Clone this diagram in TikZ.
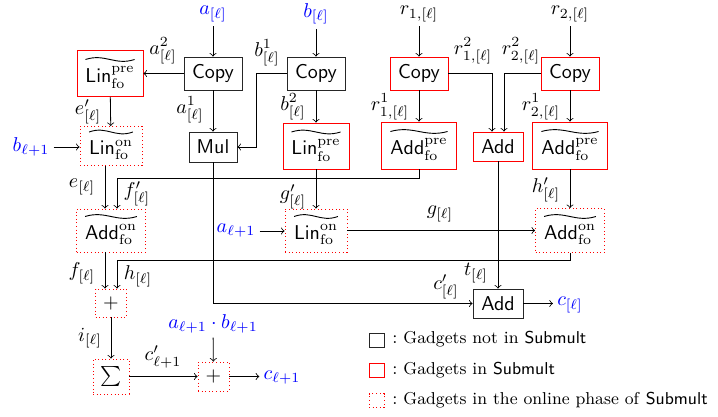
\documentclass[tikz,border=0pt]{standalone}
\usepackage{amsmath}
\usetikzlibrary{calc}

% wavy accent drawn over the text of a gadget node
\newcommand\tildeon[1]{%
  \draw[wave] ($(#1.text)+(0,11.5pt)$) to ($(#1.text)!2!(#1.text -| #1.center)+(0,11.5pt)$);}

\begin{document}
\begin{tikzpicture}[x=0.5pt,y=-0.5pt,>=to,
  every node/.style={inner sep=0pt},
  gbox/.style={draw, font=\sffamily},
  gplain/.style={gbox, draw=black!85},
  gpre/.style={gbox, draw=red},
  gon/.style={gbox, draw=red, dash pattern=on 0.5pt off 1.3pt},
  tilded/.style={text height=12.5pt, text depth=3.5pt},
  src/.style={text=blue, inner sep=2pt},
  elbl/.style={inner sep=0pt},
  keytext/.style={anchor=base west, font=\fontsize{8.6}{10}\selectfont},
  conn/.style={->},
  wave/.style={line width=0.45pt,
    to path={.. controls ($(\tikztostart)!0.4!(\tikztotarget)+(0,3.2pt)$) and ($(\tikztostart)!0.6!(\tikztotarget)+(0,-3.2pt)$) .. (\tikztotarget)}},
]
\useasboundingbox (0,0) rectangle (718,417);

% inputs and outputs
\node[src] (ain)  at (213,14)  {$a_{[\ell]}$};
\node[src] (bin)  at (316,14)  {$b_{[\ell]}$};
\node[inner sep=2pt] (r1in) at (419,14) {$r_{1,[\ell]}$};
\node[inner sep=2pt] (r2in) at (570,14) {$r_{2,[\ell]}$};
\node[src] (bnext) at (31,147)  {$b_{\ell+1}$};
\node[src] (anext) at (236,231) {$a_{\ell+1}$};
\node[src] (ab)    at (213,324) {$a_{\ell+1}\cdot b_{\ell+1}$};
\node[src] (cout)  at (570,305) {$c_{[\ell]}$};
\node[src] (cnext) at (282,378) {$c_{\ell+1}$};

% gadgets
\node[gplain, minimum width=29pt, minimum height=16.5pt] (cpa)  at (213,73.5) {Copy};
\node[gplain, minimum width=29pt, minimum height=16.5pt] (cpb)  at (316,73.5) {Copy};
\node[gpre,   minimum width=29pt, minimum height=16.5pt] (cpr1) at (419,73.5) {Copy};
\node[gpre,   minimum width=29pt, minimum height=16.5pt] (cpr2) at (570,73.5) {Copy};

\node[gpre, tilded, minimum width=33pt, minimum height=23pt] (linpa) at (110,73.5)
  {$\mathsf{Lin}^{\mathrm{pre}}_{\mathrm{fo}}$};
\node[gon, tilded, minimum width=31pt, minimum height=19.5pt] (linoa) at (111,146)
  {$\mathsf{Lin}^{\mathrm{on}}_{\mathrm{fo}}$};
\node[gplain, minimum width=24pt, minimum height=15pt] (mul) at (213,147) {Mul};
\node[gpre, tilded, minimum width=33pt, minimum height=23pt] (linpb) at (316,146)
  {$\mathsf{Lin}^{\mathrm{pre}}_{\mathrm{fo}}$};
\node[gpre, tilded, minimum width=37.5pt, minimum height=23.5pt] (addp1) at (419,145.5)
  {$\mathsf{Add}^{\mathrm{pre}}_{\mathrm{fo}}$};
\node[gpre, minimum width=25pt, minimum height=14.5pt] (addr) at (498,146.5) {Add};
\node[gpre, tilded, minimum width=37.5pt, minimum height=23.5pt] (addp2) at (570,145.5)
  {$\mathsf{Add}^{\mathrm{pre}}_{\mathrm{fo}}$};

\node[gon, tilded, minimum width=34.5pt, minimum height=21.5pt] (addoa) at (111,230.5)
  {$\mathsf{Add}^{\mathrm{on}}_{\mathrm{fo}}$};
\node[gon, tilded, minimum width=31pt, minimum height=21.5pt] (linob) at (316,230.5)
  {$\mathsf{Lin}^{\mathrm{on}}_{\mathrm{fo}}$};
\node[gon, tilded, minimum width=34.5pt, minimum height=22pt] (addob) at (570,230.5)
  {$\mathsf{Add}^{\mathrm{on}}_{\mathrm{fo}}$};

\node[gon, minimum width=15.5pt, minimum height=14pt] (plusa) at (111,303) {$+$};
\node[gon, minimum width=18pt, minimum height=17.5pt] (sig) at (111,376.5) {$\sum$};
\node[gon, minimum width=15.5pt, minimum height=14.5pt] (plusb) at (213.5,376.5) {$+$};
\node[gplain, minimum width=25pt, minimum height=14.5pt] (addb) at (498,303.5) {Add};

% accents
\foreach \g in {linpa,linoa,linpb,addp1,addp2,addoa,linob,addob} {\tildeon{\g}}

% connectors
\draw[conn] (ain) -- (cpa);
\draw[conn] (bin) -- (cpb);
\draw[conn] (r1in) -- (cpr1);
\draw[conn] (r2in) -- (cpr2);
\draw[conn] (cpa.west) -- (cpa.west -| linpa.east);
\draw[conn] (cpa) -- (mul);
\draw[conn] (cpb.west) -- ++(-30,0) |- (mul.east);
\draw[conn] (cpb) -- (linpb);
\draw[conn] (cpr1.east) -| ([xshift=-3pt]addr.north);
\draw[conn] (cpr2.west) -| ([xshift=3pt]addr.north);
\draw[conn] (cpr1) -- (addp1);
\draw[conn] (cpr2) -- (addp2);
\draw[conn] (linpa) -- (linoa);
\draw[conn] (bnext) -- (bnext -| linoa.west);
\draw[conn] ([xshift=-3pt]linoa.south) -- ([xshift=-3pt]addoa.north);
\draw[conn] (addp1.south) -- ++(0,9) -| ([xshift=3pt]addoa.north);
\draw[conn] (linpb) -- (linob);
\draw[conn] (anext) -- (anext -| linob.west);
\draw[conn] (linob) -- (addob);
\draw[conn] (addp2) -- (addob);
\draw[conn] ([xshift=-3pt]addoa.south) -- ([xshift=-3pt]plusa.north);
\draw[conn] (addob.south) -- ++(0,7) -| ([xshift=3pt]plusa.north);
\draw[conn] (mul.south) |- (addb.west);
\draw[conn] (addr) -- (addb);
\draw[conn] (addb.east) -- (addb.east -| cout.west);
\draw[conn] (plusa) -- (sig);
\draw[conn] (sig) -- (plusb);
\draw[conn] (ab) -- (plusb);
\draw[conn] (plusb.east) -- (plusb.east -| cnext.west);

% connector labels
\node[elbl] (la2) at (163,51)  {$a^{2}_{[\ell]}$};
\node[elbl] (la1) at (190,110) {$a^{1}_{[\ell]}$};
\node[elbl] (lb1) at (267,53)  {$b^{1}_{[\ell]}$};
\node[elbl] (lb2) at (293,107) {$b^{2}_{[\ell]}$};
\node[elbl] (lr12) at (473,51) {$r^{2}_{1,[\ell]}$};
\node[elbl] (lr22) at (521,51) {$r^{2}_{2,[\ell]}$};
\node[elbl] (lr11) at (390,107) {$r^{1}_{1,[\ell]}$};
\node[elbl] (lr21) at (541,107) {$r^{1}_{2,[\ell]}$};
\node[elbl] (lep) at (88,112)  {$e'_{[\ell]}$};
\node[elbl] (le)  at (82,187)  {$e_{[\ell]}$};
\node[elbl] (lfp) at (137,194) {$f'_{[\ell]}$};
\node[elbl] (lgp) at (293,197) {$g'_{[\ell]}$};
\node[elbl] (lhp) at (546,190) {$h'_{[\ell]}$};
\node[elbl] (lg)  at (440,214) {$g_{[\ell]}$};
\node[elbl] (lf)  at (82,273)  {$f_{[\ell]}$};
\node[elbl] (lh)  at (138,276) {$h_{[\ell]}$};
\node[elbl] (li)  at (90,338)  {$i_{[\ell]}$};
\node[elbl] (lcn) at (163,357) {$c'_{\ell+1}$};
\node[elbl] (lt)  at (476,273) {$t_{[\ell]}$};
\node[elbl] (lcp) at (446,287) {$c'_{[\ell]}$};

% legend
\node[gplain, minimum width=7.5pt, minimum height=7pt] (key1) at (376.5,340) {};
\node[gpre,   minimum width=7.5pt, minimum height=7pt] (key2) at (376.5,370) {};
\node[gon,    minimum width=7.5pt, minimum height=7pt] (key3) at (376.5,400.5) {};
\node[keytext] (key1t) at (392,343.5) {$:$ Gadgets not in \textsf{Submult}};
\node[keytext] (key2t) at (392,374.5) {$:$ Gadgets in \textsf{Submult}};
\node[keytext] (key3t) at (392,404.5) {$:$ Gadgets in the online phase of \textsf{Submult}};
\end{tikzpicture}
\end{document}
